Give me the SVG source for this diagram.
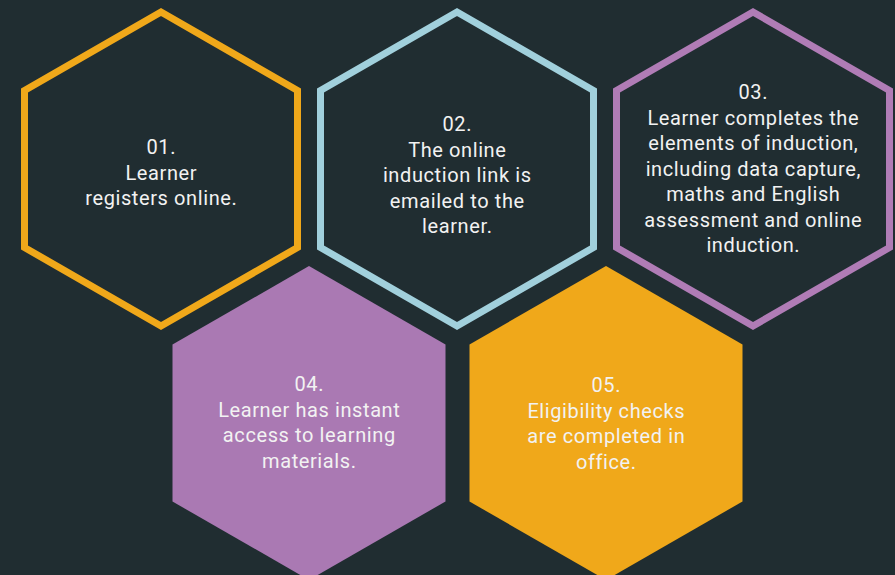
<svg xmlns="http://www.w3.org/2000/svg" width="895" height="575" viewBox="0 0 895 575">
<defs>
<style>
.bg{fill:#202d31}
.hexo{fill:none;stroke-width:7;stroke-linejoin:miter}
.t{font-family:Roboto,"Liberation Sans",sans-serif;font-size:20px;letter-spacing:0.6px;fill:#f2f2f2;text-anchor:middle}
</style>
</defs>
<rect class="bg" x="0" y="0" width="895" height="575"/>
<g id="node1">
<polygon class="hexo" stroke="#f0a81a" points="161,12 297.5,90.5 297.5,247.5 161,326 24.5,247.5 24.5,90.5"/>
<text class="t" x="161.3" y="154">01.</text>
<text class="t" x="161.3" y="179.5">Learner</text>
<text class="t" x="161.3" y="205">registers online.</text>
</g>
<g id="node2">
<polygon class="hexo" stroke="#a1d0dc" points="457,12 593.5,90.5 593.5,247.5 457,326 320.5,247.5 320.5,90.5"/>
<text class="t" x="457.3" y="131">02.</text>
<text class="t" x="457.3" y="156.5">The online</text>
<text class="t" x="457.3" y="182">induction link is</text>
<text class="t" x="457.3" y="207.5">emailed to the</text>
<text class="t" x="457.3" y="233">learner.</text>
</g>
<g id="node3">
<polygon class="hexo" stroke="#b07cb6" points="753,12 889.5,90.5 889.5,247.5 753,326 616.5,247.5 616.5,90.5"/>
<text class="t" x="753.3" y="99">03.</text>
<text class="t" x="753.3" y="124.5">Learner completes the</text>
<text class="t" x="753.3" y="150">elements of induction,</text>
<text class="t" x="753.3" y="175.5">including data capture,</text>
<text class="t" x="753.3" y="201">maths and English</text>
<text class="t" x="753.3" y="226.5">assessment and online</text>
<text class="t" x="753.3" y="252">induction.</text>
</g>
<g id="node4">
<polygon fill="#aa79b3" points="309,266 445.5,344.5 445.5,501.5 309,580 172.5,501.5 172.5,344.5"/>
<text class="t" x="309.3" y="391">04.</text>
<text class="t" x="309.3" y="416.5">Learner has instant</text>
<text class="t" x="309.3" y="442">access to learning</text>
<text class="t" x="309.3" y="467.5">materials.</text>
</g>
<g id="node5">
<polygon fill="#f0a81a" points="606,266 742.5,344.5 742.5,501.5 606,580 469.5,501.5 469.5,344.5"/>
<text class="t" x="606.3" y="392">05.</text>
<text class="t" x="606.3" y="417.5">Eligibility checks</text>
<text class="t" x="606.3" y="443">are completed in</text>
<text class="t" x="606.3" y="468.5">office.</text>
</g>
<g id="connectors"></g>
</svg>
